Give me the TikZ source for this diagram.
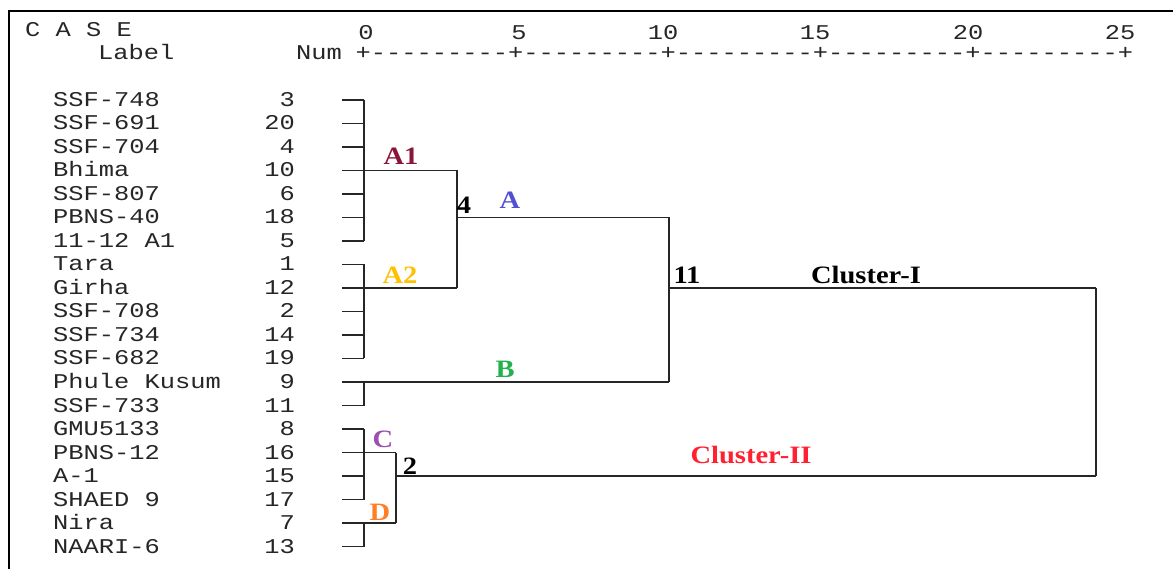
\documentclass[tikz,border=0pt]{standalone}
\usepackage{fontspec}
\newfontfamily\monof[FakeStretch=1.21,Ligatures=TeXOff]{Liberation Mono}
\newfontfamily\serb[FakeStretch=1.14]{Liberation Serif}
\definecolor{cA1}{HTML}{8B1538}
\definecolor{cA2}{HTML}{FFC000}
\definecolor{cA}{HTML}{5050D0}
\definecolor{cB}{HTML}{22B14C}
\definecolor{cC}{HTML}{9B4FB0}
\definecolor{cD}{HTML}{FF7F27}
\definecolor{cII}{HTML}{FF2030}
\begin{document}
\begin{tikzpicture}[x=1pt,y=-1pt,
  lbl/.style={font=\monof\fontsize{21}{21}\selectfont, inner sep=0, text=black!85},
  tag/.style={font=\serb\bfseries\fontsize{25}{25}\selectfont, inner sep=0},
  link/.style={line width=1.3pt, draw=black!85},
  frame/.style={line width=2.5pt, draw=black}]
\useasboundingbox (0,0) rectangle (1173,569);
\fill[white] (0,0) rectangle (1173,569);
\draw[frame] (1173,11) -- (9,11) -- (9,569);
% header
\node[lbl,anchor=base west] (hcase) at (25,36.5) {C A S E};
\node[lbl,anchor=base west] (hlabel) at (98,60) {Label};
\node[lbl,anchor=base east] (hnum) at (342,60) {Num};
\node[lbl,anchor=base west] (axis) at (355.4,60) {+---------+---------+---------+---------+---------+};
\foreach \v/\x in {0/366,5/519,10/663,15/815,20/968,25/1120}
  \node[lbl,anchor=base] (tick\v) at (\x,40) {\v};
% leaves
\foreach \lab/\num [count=\i from 0] in {SSF-748/3,SSF-691/20,SSF-704/4,Bhima/10,SSF-807/6,PBNS-40/18,11-12 A1/5,Tara/1,Girha/12,SSF-708/2,SSF-734/14,SSF-682/19,Phule Kusum/9,SSF-733/11,GMU5133/8,PBNS-12/16,A-1/15,SHAED 9/17,Nira/7,NAARI-6/13}{
  \pgfmathsetmacro\yy{100+23.5*\i}
  \node[lbl,anchor=base west] (lab\i) at (53,\yy+6.5) {\lab};
  \node[lbl,anchor=base east] (num\i) at (295,\yy+6.5) {\num};
  \coordinate (t\i) at (342,\yy);
  \coordinate (s\i) at (364,\yy);
  \draw[link] (t\i) -- (s\i);
}
% junction coordinates
\coordinate (j4top) at (457,170.5);
\coordinate (j4bot) at (457,288);
\coordinate (j4mid) at (457,217.5);
\coordinate (j11top) at (669,217.5);
\coordinate (j11bot) at (669,382);
\coordinate (j11mid) at (669,288);
\coordinate (jtop) at (1096,288);
\coordinate (j2top) at (396,452.5);
\coordinate (j2bot) at (396,523);
\coordinate (j2mid) at (396,476);
\coordinate (jbot) at (1096,476);
% A1
\draw[link] (s0) -- (s6);
\draw[link] (s3) -- (j4top);
% A2
\draw[link] (s7) -- (s11);
\draw[link] (s8) -- (j4bot);
\draw[link] (j4top) -- (j4bot);
\draw[link] (j4mid) -- (j11top);
% B
\draw[link] (s12) -- (s13);
\draw[link] (s12) -- (j11bot);
\draw[link] (j11top) -- (j11bot);
\draw[link] (j11mid) -- (jtop);
% C and D
\draw[link] (s14) -- (s17);
\draw[link] (s15) -- (j2top);
\draw[link] (s18) -- (s19);
\draw[link] (s18) -- (j2bot);
\draw[link] (j2top) -- (j2bot);
\draw[link] (j2mid) -- (jbot);
\draw[link] (jtop) -- (jbot);
% tags
\node[tag,text=cA1] (tA1) at (401,156) {A1};
\node[tag,text=cA2] (tA2) at (400,275.5) {A2};
\node[tag] (t4) at (464,205) {4};
\node[tag,text=cA] (tA) at (510,200.5) {A};
\node[tag] (t11) at (687,275.5) {11};
\node[tag] (tCI) at (866,275) {Cluster-I};
\node[tag,text=cB] (tB) at (505,369) {B};
\node[tag,text=cC] (tC) at (383,439) {C};
\node[tag,text=cD] (tD) at (380,512.5) {D};
\node[tag] (t2) at (410,466) {2};
\node[tag,text=cII] (tCII) at (751,455) {Cluster-II};
\end{tikzpicture}
\end{document}
